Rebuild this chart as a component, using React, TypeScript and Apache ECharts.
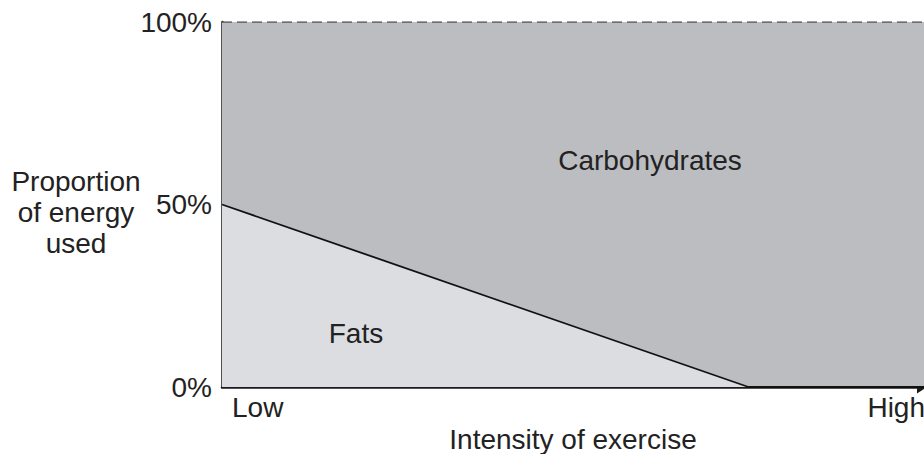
import React, { useEffect, useRef } from "react";
import * as echarts from "echarts";

const xTickLabels = ["Low", "High"];
const yTicks = [0, 50, 100];
const fatsX = [0, 75, 100];
const fatsY = [50, 0, 0];
const carbsX = [0, 100];
const carbsY = [100, 100];
const areaLabels = ["Carbohydrates", "Fats"];
const yTitle = "Proportion\nof energy\nused";

const FONT = "'Liberation Sans', Arial, sans-serif";
const FS = 28;

export default function App() {
  const ref = useRef<HTMLDivElement>(null);
  useEffect(() => {
    if (!ref.current) return;
    const chart = echarts.init(ref.current, null, { renderer: "svg" });
    chart.setOption({
      animation: false,
      textStyle: { fontFamily: FONT },
      grid: { left: 222, right: 0, top: 22, bottom: 67, containLabel: false, outerBoundsMode: "none" },
      xAxis: {
        type: "value",
        min: 0,
        max: 100,
        interval: 100,
        name: "Intensity of exercise",
        nameLocation: "middle",
        nameGap: 35,
        nameTextStyle: { fontSize: FS, color: "#222", fontFamily: FONT },
        axisLine: {
          show: true,
          lineStyle: { color: "#1a1a1a", width: 2.5 },
          symbol: ["none", "triangle"],
          symbolSize: [13, 10],
          symbolOffset: [0, -2],
        },
        axisTick: { show: false },
        splitLine: { show: false },
        axisLabel: {
          fontSize: FS,
          color: "#222",
          fontFamily: FONT,
          margin: 6,
          alignMinLabel: "left",
          alignMaxLabel: "right",
          formatter: (v: number) =>
            v === 0 ? `{low|${xTickLabels[0]}}` : v === 100 ? `{high|${xTickLabels[1]}}` : "",
          rich: {
            low: { fontSize: FS, color: "#222", fontFamily: FONT, padding: [0, 0, 0, 10] },
            high: { fontSize: FS, color: "#222", fontFamily: FONT, padding: [0, -1, 0, 0] },
          },
        },
      },
      yAxis: {
        type: "value",
        min: 0,
        max: 100,
        interval: 50,
        axisLine: { show: true, lineStyle: { color: "#1a1a1a", width: 2.5 } },
        axisTick: { show: false },
        splitLine: { show: false },
        axisLabel: {
          fontSize: FS,
          color: "#222",
          fontFamily: FONT,
          margin: 10,
          formatter: (v: number) => (yTicks.includes(v) ? `${v}%` : ""),
        },
      },
      series: [
        {
          type: "line",
          data: carbsX.map((x, i) => [x, carbsY[i]]),
          symbol: "none",
          lineStyle: { color: "#555", width: 1.5, type: [10, 5] },
          areaStyle: { color: "#bcbdc1", opacity: 1, origin: "start" },
          z: 1,
        },
        {
          type: "line",
          data: fatsX.map((x, i) => [x, fatsY[i]]),
          symbol: "none",
          lineStyle: { color: "#111", width: 1.8 },
          areaStyle: { color: "#dcdde0", opacity: 1, origin: "start" },
          z: 2,
        },
      ],
      graphic: [
        {
          type: "text",
          x: 76,
          y: 212,
          style: {
            text: yTitle,
            fontSize: FS,
            fontFamily: FONT,
            fill: "#222",
            textAlign: "center",
            textVerticalAlign: "middle",
            lineHeight: 31,
          },
          z: 10,
        },
        {
          type: "text",
          x: 650,
          y: 160,
          style: { text: areaLabels[0], fontSize: FS, fontFamily: FONT, fill: "#222", textAlign: "center", textVerticalAlign: "middle" },
          z: 10,
        },
        {
          type: "text",
          x: 356,
          y: 333,
          style: { text: areaLabels[1], fontSize: FS, fontFamily: FONT, fill: "#222", textAlign: "center", textVerticalAlign: "middle" },
          z: 10,
        },
      ],
    });
    return () => chart.dispose();
  }, []);
  return <div ref={ref} style={{ position: "absolute", left: 0, top: 0, width: 924, height: 454 }} />;
}
